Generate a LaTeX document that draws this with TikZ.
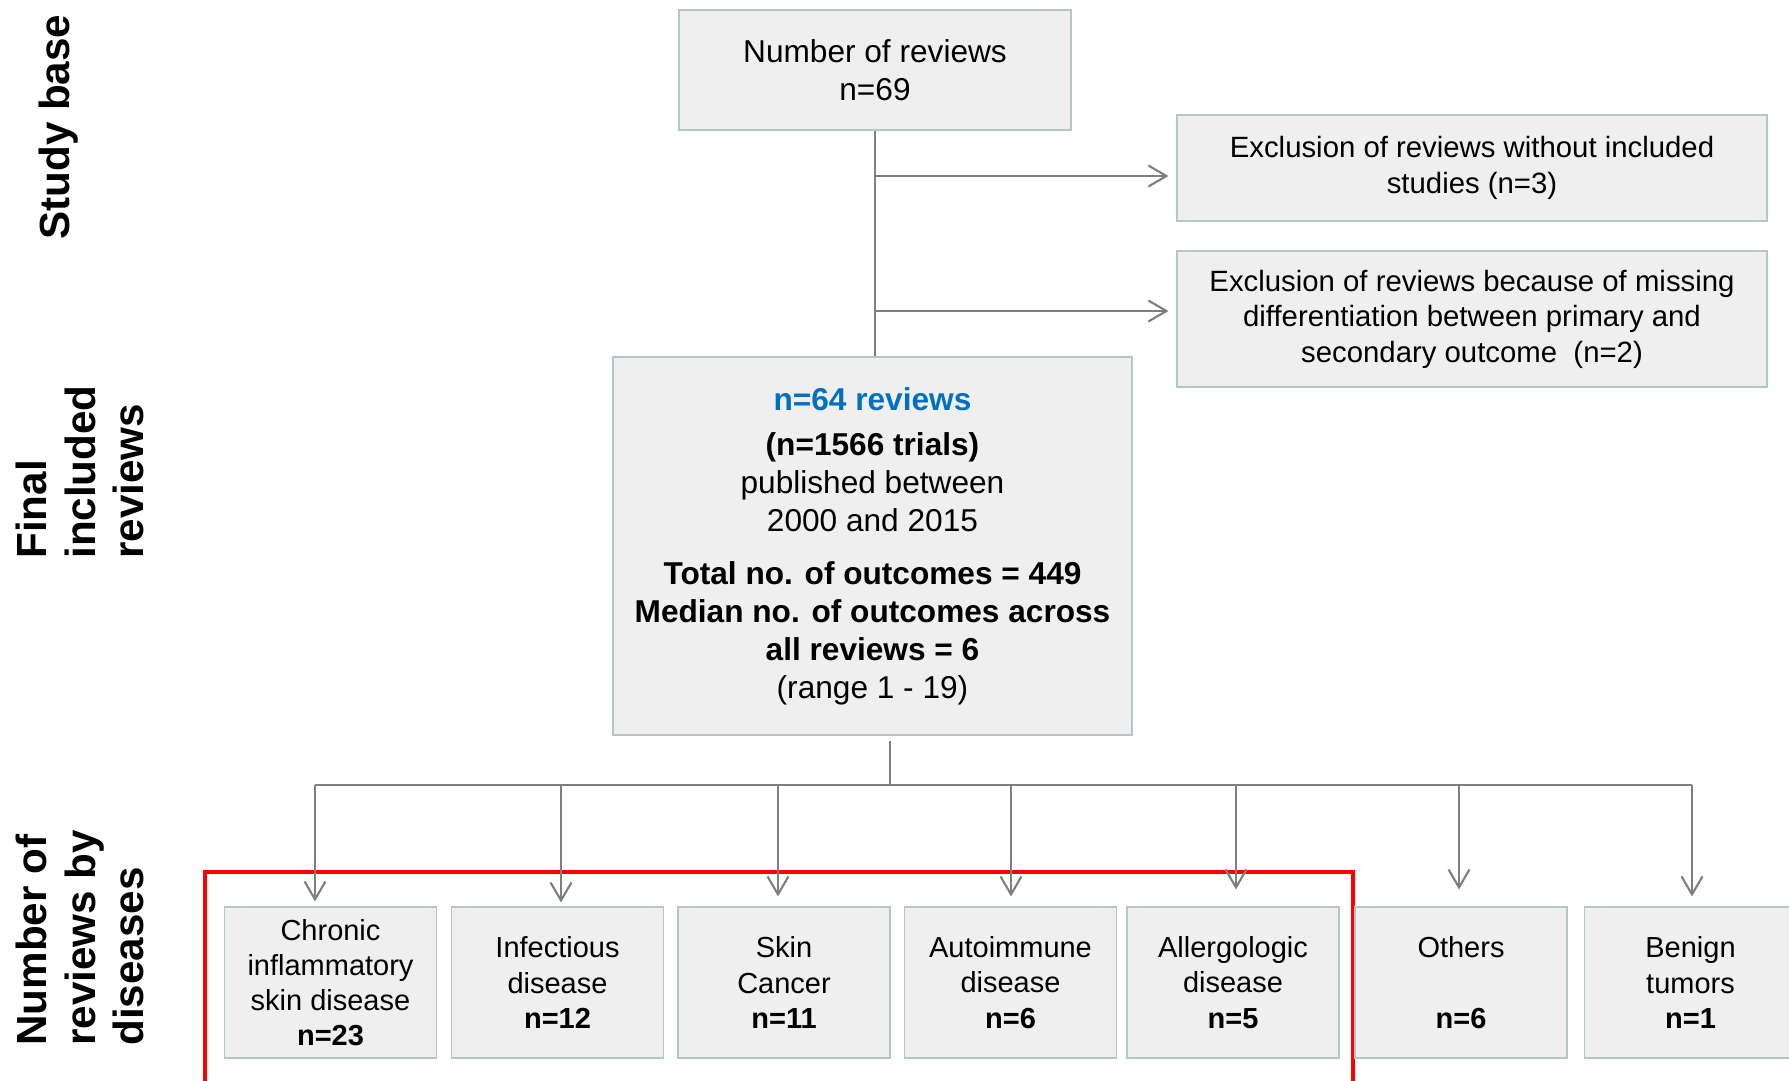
\documentclass[tikz,border=0pt]{standalone}
\usepackage{fontspec}
\setmainfont{Liberation Sans}
\usetikzlibrary{arrows.meta,positioning}

\definecolor{boxfill}{HTML}{EFEFEF}
\definecolor{boxline}{HTML}{B4C6C6}
\definecolor{linkgray}{HTML}{7F7F7F}
\definecolor{nblue}{HTML}{0070C0}
\definecolor{frame}{HTML}{FF0000}

\begin{document}
\begin{tikzpicture}[x=0.02cm,y=-0.02cm,
    box/.style={draw=boxline,fill=boxfill,line width=0.6pt,inner sep=0pt,align=center},
    bigbox/.style={box,font=\fontsize{18}{21.6}\selectfont},
    exbox/.style={box,minimum width=590*0.02cm,font=\fontsize{16.7}{20.2}\selectfont},
    disbox/.style={box,minimum width=212*0.02cm,minimum height=151*0.02cm,
                   font=\fontsize{16.5}{20}\selectfont},
    link/.style={draw=linkgray,line width=1.2pt},
    tip/.style={-{Straight Barb[length=0.36cm,width=0.42cm,line width=1.2pt]}},
    side/.style={rotate=90,anchor=west,align=left,inner sep=0pt,
                 font=\fontsize{24}{27.5}\selectfont\bfseries}]
  \clip (0,0) rectangle (1789,1080);
%
  \node [side] (lsb) at (59,240) {Study base};
  \node [side] (lfi) at (80,559) {Final\\included\\reviews};
  \node [side] (lnd) at (80,1046) {Number of\\reviews by\\diseases};
%
  \node [bigbox,minimum width=392*0.02cm,minimum height=120*0.02cm] (top) at (875,70)
    {Number of reviews\\n=69};
  \node [exbox,minimum height=106*0.02cm] (exa) at (1472,168)
    {Exclusion of reviews without included\\studies (n=3)};
  \node [exbox,minimum height=136*0.02cm] (exb) at (1472,319)
    {Exclusion of reviews because of missing\\differentiation between primary and\\secondary outcome~~(n=2)};
  \node [bigbox,minimum width=519*0.02cm,minimum height=378*0.02cm] (fin) at (872.5,546)
    {\textcolor{nblue}{\bfseries n=64 reviews}\\[4pt]
     \bfseries (n=1566 trials)\\
     published between\\
     2000 and 2015\\[8.7pt]
     \bfseries Total no. of outcomes = 449\\
     \bfseries Median no. of outcomes across\\
     \bfseries all reviews = 6\\
     (range 1 - 19)};
%
  \draw [frame,line width=2.3pt] (205,1100) -- (205,872) -- (1353,872) -- (1353,1100);
%
  \node [disbox] (chr) at (330.5,982.5) {Chronic\\inflammatory\\skin disease\\\textbf{n=23}};
  \node [disbox] (inf) at (557.5,982.5) {Infectious\\disease\\\textbf{n=12}};
  \node [disbox] (skn) at (784,982.5) {Skin\\Cancer\\\textbf{n=11}};
  \node [disbox] (aut) at (1010.5,982.5) {Autoimmune\\disease\\\textbf{n=6}};
  \node [disbox] (alg) at (1233,982.5) {Allergologic\\disease\\\textbf{n=5}};
  \node [disbox] (oth) at (1461,982.5) {Others\\[20pt]\textbf{n=6}};
  \node [disbox] (ben) at (1690.5,982.5) {Benign\\tumors\\\textbf{n=1}};
%
  \coordinate (ja) at (875,176);
  \coordinate (jb) at (875,311);
  \coordinate (bus) at (890,785);
  \coordinate (dchr) at (315,785);
  \coordinate (dinf) at (561,785);
  \coordinate (dskn) at (778,785);
  \coordinate (daut) at (1011,785);
  \coordinate (dalg) at (1236,785);
  \coordinate (doth) at (1459,785);
  \coordinate (dben) at (1692,785);
%
  \draw [link] (top.south) -- (top.south |- fin.north);
  \draw [link,tip,shorten >=0.16cm] (ja) -- (ja -| exa.west);
  \draw [link,tip,shorten >=0.16cm] (jb) -- (jb -| exb.west);
%
  \draw [link,shorten <=0.1cm] (bus |- fin.south) -- (bus);
  \draw [link] (dchr) -- (dben);
%
  \draw [link,tip,shorten >=0.1cm] (dchr) -- (dchr |- chr.north);
  \draw [link,tip,shorten >=0.08cm] (dinf) -- (dinf |- inf.north);
  \draw [link,tip,shorten >=0.2cm] (dskn) -- (dskn |- skn.north);
  \draw [link,tip,shorten >=0.2cm] (daut) -- (daut |- aut.north);
  \draw [link,tip,shorten >=0.34cm] (dalg) -- (dalg |- alg.north);
  \draw [link,tip,shorten >=0.34cm] (doth) -- (doth |- oth.north);
  \draw [link,tip,shorten >=0.2cm] (dben) -- (dben |- ben.north);
%
\end{tikzpicture}
\end{document}
